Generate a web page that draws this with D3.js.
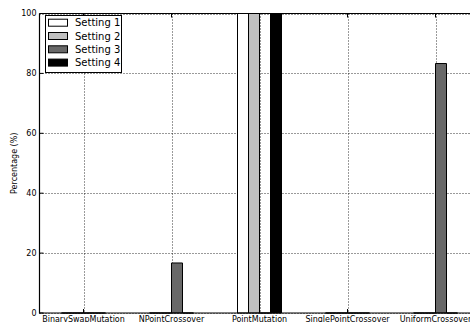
<!DOCTYPE html>
<html><head><meta charset="utf-8">
<script src="https://cdn.jsdelivr.net/npm/d3@7"></script>
<style>body{margin:0;background:#fff;overflow:hidden}svg{display:block}</style>
</head><body>
<svg id="c" width="470" height="322"></svg>
<script>
const categories = ["BinarySwapMutation","NPointCrossover","PointMutation","SinglePointCrossover","UniformCrossover"];
const seriesNames = ["Setting 1","Setting 2","Setting 3","Setting 4"];
const setting1 = [0, 0, 100, 0, 0];
const setting2 = [0, 0, 100, 0, 0];
const setting3 = [0, 16.7, 0, 0, 83.3];
const setting4 = [0, 0, 100, 0, 0];
const colors = ["#ffffff","#c0c0c0","#686868","#000000"];
const yTicks = [0,20,40,60,80,100];

const series = [setting1, setting2, setting3, setting4];
const svg = d3.select("#c");
const m = {l:39.5, t:13.5, r:479.5, b:313};
const x = d3.scaleBand().domain(categories).range([m.l, m.r]).padding(0);
const y = d3.scaleLinear().domain([0,100]).range([m.b, m.t]);
const font = "DejaVu Sans, sans-serif";
const barW = x.bandwidth()/8;

// grid
const g = svg.append("g");
g.selectAll("line.gy").data(yTicks).join("line")
  .attr("x1", m.l).attr("x2", m.r).attr("y1", d=>Math.round(y(d))+0.5).attr("y2", d=>Math.round(y(d))+0.5)
  .attr("stroke","#000").attr("stroke-width",0.8).attr("stroke-dasharray","1,2");
g.selectAll("line.gx").data(categories).join("line")
  .attr("x1", d=>Math.round(x(d)+x.bandwidth()/2)+0.5).attr("x2", d=>Math.round(x(d)+x.bandwidth()/2)+0.5)
  .attr("y1", m.t).attr("y2", m.b)
  .attr("stroke","#000").attr("stroke-width",0.8).attr("stroke-dasharray","1,2");

// bars
series.forEach((vals, si) => {
  svg.append("g").selectAll("path").data(vals).join("path")
    .attr("d", (v,i) => {
      const cx = x(categories[i]) + x.bandwidth()/2;
      const x0 = cx + (si-2)*barW, x1 = x0 + barW;
      const y0 = y(0), y1 = y(v);
      return `M${x0},${y0}V${y1}H${x1}V${y0}Z`;
    })
    .attr("fill", colors[si]).attr("stroke","#000").attr("stroke-width",1);
});

// axes spines
svg.append("line").attr("x1",m.l).attr("x2",m.l).attr("y1",m.t).attr("y2",m.b+0.5).attr("stroke","#000").attr("stroke-width",1.2);
svg.append("line").attr("x1",m.l).attr("x2",m.r).attr("y1",m.t).attr("y2",m.t).attr("stroke","#000").attr("stroke-width",1.2);
svg.append("line").attr("x1",m.l).attr("x2",m.r).attr("y1",m.b).attr("y2",m.b).attr("stroke","#000").attr("stroke-width",1.2);

// y ticks (inward) + labels
const yt = svg.append("g");
yt.selectAll("line").data(yTicks).join("line")
  .attr("x1", m.l).attr("x2", m.l+4).attr("y1", d=>y(d)).attr("y2", d=>y(d)).attr("stroke","#000");
yt.selectAll("text").data(yTicks).join("text")
  .attr("x", m.l-3).attr("y", d=>y(d)).attr("dy","0.35em").attr("text-anchor","end")
  .attr("font-family",font).attr("font-size",8).text(d=>d);

// x ticks top & bottom (inward) + labels
const xt = svg.append("g");
xt.selectAll("line.b").data(categories).join("line")
  .attr("x1", d=>x(d)+x.bandwidth()/2).attr("x2", d=>x(d)+x.bandwidth()/2)
  .attr("y1", m.b).attr("y2", m.b-4).attr("stroke","#000");
xt.selectAll("line.t").data(categories).join("line").attr("class","t")
  .attr("x1", d=>x(d)+x.bandwidth()/2).attr("x2", d=>x(d)+x.bandwidth()/2)
  .attr("y1", m.t).attr("y2", m.t+4).attr("stroke","#000");
xt.selectAll("text").data(categories).join("text")
  .attr("x", d=>x(d)+x.bandwidth()/2).attr("y", 322).attr("text-anchor","middle")
  .attr("font-family",font).attr("font-size",8).text(d=>d);

// y label
svg.append("text").attr("transform",`translate(17,${(m.t+m.b)/2}) rotate(-90)`)
  .attr("text-anchor","middle").attr("font-family",font).attr("font-size",8).text("Percentage (%)");

// legend
const lg = svg.append("g");
lg.append("rect").attr("x",45.5).attr("y",15.5).attr("width",76).attr("height",57)
  .attr("fill","#fff").attr("stroke","#000").attr("stroke-width",1);
seriesNames.forEach((n,i) => {
  const cy = 22.7 + i*13.3;
  lg.append("rect").attr("x",48.5).attr("y",cy-3.5).attr("width",19).attr("height",7)
    .attr("fill",colors[i]).attr("stroke","#000").attr("stroke-width",1);
  lg.append("text").attr("x",75).attr("y",cy).attr("dy","0.36em")
    .attr("font-family",font).attr("font-size",10).text(n);
});
</script>
</body></html>
